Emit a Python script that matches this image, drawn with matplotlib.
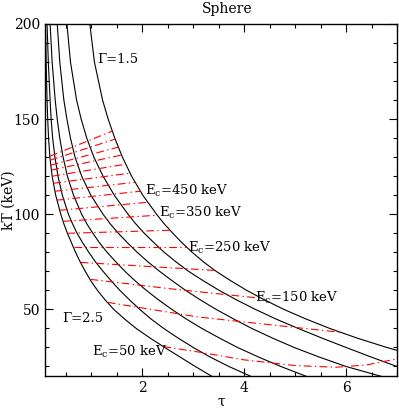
import matplotlib
matplotlib.use("Agg")
import matplotlib.pyplot as plt
from matplotlib.ticker import MultipleLocator

plt.rcParams['font.family'] = ['DejaVu Serif']
plt.rcParams['mathtext.fontset'] = 'dejavuserif'

# ---- data: black curves (photon index Gamma), tau at fixed kT levels ----
kT_levels = [200, 180, 160, 150, 140, 130, 120, 110, 100, 95, 90, 85, 80, 75, 70,
             65, 60, 55, 50, 45, 40, 35, 30, 25, 20, 14]
gammas = [1.5, 1.7, 1.9, 2.1, 2.3, 2.5]
tau_g15 = [0.97, 1.06, 1.22, 1.33, 1.46, 1.61, 1.79, 2.01, 2.28, 2.43, 2.60, 2.78, 2.98, 3.20, 3.45,
           3.74, 4.05, 4.40, 4.78, 5.21, 5.68, 6.21, 6.80, 7.46, 8.20, 9.20]
tau_g17 = [0.52, 0.59, 0.71, 0.80, 0.91, 1.05, 1.23, 1.45, 1.72, 1.87, 2.04, 2.23, 2.43, 2.66, 2.91,
           3.20, 3.51, 3.85, 4.22, 4.62, 5.06, 5.52, 6.00, 6.49, 7.00, 7.70]
tau_g19 = [0.33, 0.38, 0.46, 0.52, 0.59, 0.68, 0.81, 0.99, 1.23, 1.37, 1.53, 1.71, 1.90, 2.11, 2.34,
           2.59, 2.85, 3.14, 3.45, 3.79, 4.15, 4.55, 4.98, 5.47, 6.00, 6.80]
tau_g21 = [0.19, 0.23, 0.29, 0.33, 0.38, 0.445, 0.53, 0.65, 0.81, 0.91, 1.03, 1.16, 1.31, 1.48, 1.66,
           1.86, 2.08, 2.32, 2.58, 2.86, 3.17, 3.51, 3.87, 4.28, 4.72, 5.30]
tau_g23 = [0.13, 0.155, 0.19, 0.21, 0.24, 0.285, 0.345, 0.43, 0.55, 0.63, 0.72, 0.83, 0.95, 1.08, 1.23,
           1.39, 1.56, 1.75, 1.95, 2.17, 2.42, 2.70, 3.00, 3.33, 3.70, 4.20]
tau_g25 = [0.10, 0.112, 0.13, 0.143, 0.16, 0.186, 0.23, 0.30, 0.40, 0.46, 0.53, 0.61, 0.69, 0.78, 0.88,
           0.99, 1.12, 1.27, 1.44, 1.65, 1.88, 2.15, 2.44, 2.74, 3.04, 3.42]
tau_curves = [tau_g15, tau_g17, tau_g19, tau_g21, tau_g23, tau_g25]

# ---- data: red curves of constant cut-off energy Ec (keV) ----
ec_values = [800, 750, 700, 650, 600, 550, 500, 450, 400, 350, 300, 250, 200, 150, 100, 50]
ec_tau = [
    [0.185, 1.41], [0.19, 1.465], [0.20, 1.53], [0.215, 1.59], [0.23, 1.67],
    [0.255, 1.76], [0.285, 1.86], [0.32, 1.96], [0.38, 2.11], [0.45, 2.30],
    [0.53, 2.55], [0.65, 2.88], [0.79, 3.43], [0.98, 2.50, 4.35],
    [1.32, 3.10, 5.92], [2.41, 3.13, 4.0, 5.0, 5.8, 6.4, 7.0],
]
ec_kT = [
    [130.5, 143.7], [128.4, 139.5], [125.8, 135.3], [123.2, 131.1], [120.0, 126.3],
    [116.3, 121.6], [112.1, 116.8], [107.4, 112.1], [102.1, 106.3], [96.3, 99.5],
    [90.0, 91.6], [82.6, 82.6], [74.7, 70.5], [65.8, 61.0, 55.8],
    [53.7, 46.0, 37.9], [30.5, 27.5, 23.5, 20.5, 19.6, 20.8, 24.0],
]
ec_labelled = [450, 350, 250, 150, 50]
ec_label_pos = [(2.05, 112.0), (2.33, 100.5), (2.90, 82.3), (4.21, 55.8), (1.01, 27.4)]

fig = plt.figure(figsize=(3.99, 4.08), dpi=100)
ax = fig.add_axes([0.1128, 0.0784, 0.8822, 0.8628])

for taus in tau_curves:
    ax.plot(taus, kT_levels, color='black', lw=0.8, zorder=2)

for t, k in zip(ec_tau, ec_kT):
    ax.plot(t, k, color='red', lw=0.8, linestyle=(0, (7, 3, 1.2, 3)), zorder=3)

fs = 9.5
ax.text(1.11, 181.6, 'Γ=1.5', fontsize=fs, ha='left', va='center')
ax.text(0.43, 45.3, 'Γ=2.5', fontsize=fs, ha='left', va='center')
for ec, (x, y) in zip(ec_labelled, ec_label_pos):
    ax.text(x, y, r'E$_{\rm c}$=%d keV' % ec, fontsize=fs, ha='left', va='center')

ax.set_xlim(0.09, 7.0)
ax.set_ylim(15, 200)
ax.xaxis.set_major_locator(MultipleLocator(2))
ax.xaxis.set_minor_locator(MultipleLocator(0.5))
ax.yaxis.set_major_locator(MultipleLocator(50))
ax.yaxis.set_minor_locator(MultipleLocator(10))
ax.tick_params(which='both', direction='in', top=True, right=True, labelsize=10, width=0.8)
ax.tick_params(which='major', length=6)
ax.tick_params(which='minor', length=3)
for s in ax.spines.values():
    s.set_linewidth(1.0)

ax.set_xlabel('τ', fontsize=10, labelpad=0)
fig.text(0.021, 0.51, 'kT (keV)', fontsize=10, rotation=90, ha='center', va='center')
fig.text(0.569, 0.978, 'Sphere', fontsize=10, ha='center', va='center')

fig.savefig('out.png', dpi=100)
